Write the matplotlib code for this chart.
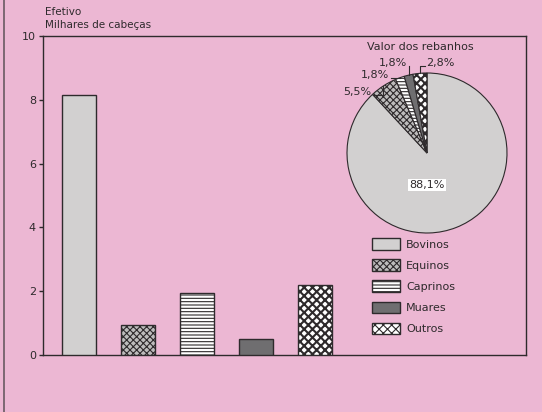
import numpy as np
import matplotlib
matplotlib.use("Agg")
import matplotlib.pyplot as plt
from matplotlib.lines import Line2D

# ===== DATA =====
categories = ["Bovinos", "Equinos", "Caprinos", "Muares", "Outros"]
efetivo = [8.15, 0.95, 1.95, 0.5, 2.2]          # milhares de cabeças
valor_pct = [88.1, 5.5, 1.8, 1.8, 2.8]          # % do valor dos rebanhos
valor_labels = ["88,1%", "5,5%", "1,8%", "1,8%", "2,8%"]
yticks = [0, 2, 4, 6, 8, 10]

# ===== STYLE =====
bg = "#ECB7D3"
ink = "#2e2a2c"
styles = {
    "Bovinos": dict(facecolor="#d2d0d0", hatch=None),
    "Equinos": dict(facecolor="#bdbcbc", hatch="xxxxx"),
    "Caprinos": dict(facecolor="white", hatch="-----"),
    "Muares": dict(facecolor="#6f6e70", hatch=None),
    "Outros": dict(facecolor="white", hatch="xxxx"),
}
plt.rcParams["font.family"] = ["DejaVu Sans"]
plt.rcParams["hatch.linewidth"] = 0.8

W, H = 542, 412
fig = plt.figure(figsize=(W / 100, H / 100), dpi=100, facecolor=bg)

# main bar axes
ax = fig.add_axes([43 / W, 1 - 355 / H, (526 - 43) / W, (355 - 36) / H])
ax.set_facecolor(bg)

x = np.arange(len(categories))
bars = ax.bar(x, efetivo, width=0.58, edgecolor=ink, linewidth=1.0, zorder=3)
for b, cat in zip(bars, categories):
    b.set_facecolor(styles[cat]["facecolor"])
    if styles[cat]["hatch"]:
        b.set_hatch(styles[cat]["hatch"])
    if cat == "Outros" and hasattr(b, "set_hatch_linewidth"):
        b.set_hatch_linewidth(1.5)
    b.set_label(cat)

ax.set_xlim(-0.61, 7.58)
ax.set_ylim(0, 10)
ax.set_xticks([])
ax.set_yticks(yticks)
ax.set_yticklabels([str(t) for t in yticks], fontsize=8, color=ink)
ax.tick_params(axis="y", length=3, width=1, color=ink, pad=2)
for s in ax.spines.values():
    s.set_color(ink)
    s.set_linewidth(1.0)

fig.text(45 / W, 1 - 12 / H, "Efetivo", fontsize=7.5, color=ink, va="center")
fig.text(45 / W, 1 - 25 / H, "Milhares de cabeças", fontsize=7.5, color=ink, va="center")

# legend
ax.legend(loc="upper left", bbox_to_anchor=(0.681, 0.367), frameon=False,
          fontsize=8, handlelength=2.5, handleheight=1.25, labelspacing=0.85,
          handletextpad=0.6, borderpad=0, borderaxespad=0, labelcolor=ink)

# ===== PIE =====
cx, cy, r = 427, 153, 80
pax = fig.add_axes([(cx - r) / W, 1 - (cy + r) / H, 2 * r / W, 2 * r / H])
wedges, _ = pax.pie(valor_pct, startangle=90, counterclock=False,
                    wedgeprops=dict(edgecolor=ink, linewidth=0.8))
for w_, cat in zip(wedges, categories):
    w_.set_facecolor(styles[cat]["facecolor"])
    if styles[cat]["hatch"]:
        w_.set_hatch(styles[cat]["hatch"])
    if cat == "Outros" and hasattr(w_, "set_hatch_linewidth"):
        w_.set_hatch_linewidth(1.5)
pax.set_xlim(-1, 1)
pax.set_ylim(-1, 1)
pax.set_aspect("equal")
pax.axis("off")

pax.text(-0.08, 1.32, "Valor dos rebanhos", fontsize=8, color=ink, ha="center", va="center")
pax.text(0, -0.4, valor_labels[0], fontsize=8, color=ink, ha="center", va="center",
         bbox=dict(facecolor="white", edgecolor="none", pad=1))

# small-slice labels with leader lines
frac = np.array(valor_pct) / sum(valor_pct)
ends = np.cumsum(frac)
mids = ends - frac / 2
label_pos = {1: (-0.70, 0.76, "right"), 2: (-0.47, 0.98, "right"),
             3: (-0.25, 1.13, "right"), 4: (-0.01, 1.13, "left")}
for i, (tx, ty, ha) in label_pos.items():
    ang = np.deg2rad(90 - 360 * mids[i])
    ex, ey = np.cos(ang), np.sin(ang)
    pax.text(tx, ty, valor_labels[i], fontsize=8, color=ink, ha=ha, va="center")
    lx = tx + (0.02 if ha == "right" else -0.02)
    ly = ty - 0.04
    pax.add_line(Line2D([lx, ex, ex], [ly, ly, ey], color=ink, lw=0.8, clip_on=False))

# scan edge on the left
fig.add_artist(Line2D([4 / W, 4 / W], [0, 1], color="#6a5a62", lw=1.2))

fig.savefig("out.png", dpi=100, facecolor=bg)
